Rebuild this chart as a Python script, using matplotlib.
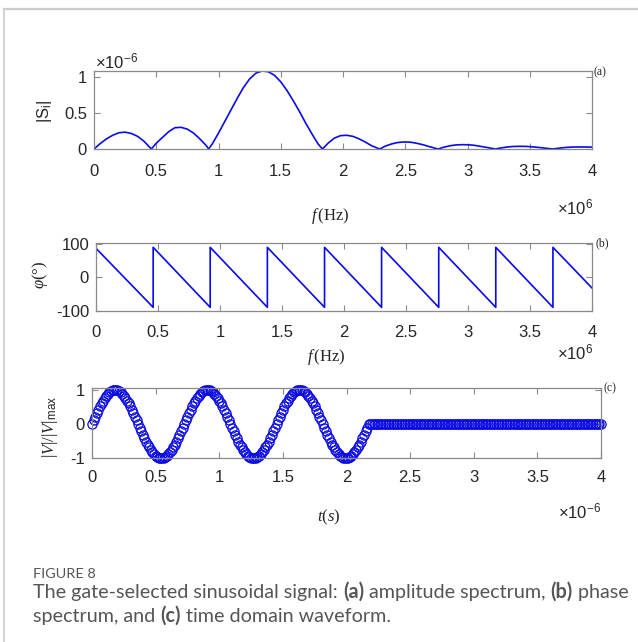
import numpy as np
import matplotlib
matplotlib.use("Agg")
import matplotlib.pyplot as plt
from matplotlib.lines import Line2D

plt.rcParams['font.family'] = ['Liberation Sans', 'DejaVu Sans']
plt.rcParams['mathtext.fontset'] = 'custom'
plt.rcParams['mathtext.rm'] = 'Liberation Serif'
plt.rcParams['mathtext.it'] = 'Liberation Serif:italic'
plt.rcParams['mathtext.sf'] = 'Liberation Sans'
plt.rcParams['mathtext.bf'] = 'Liberation Serif:bold'

# (a) Amplitudenspektrum |S_i|, f in MHz, Werte in 1e-6
f_amp = [0.0, 0.05, 0.10, 0.15, 0.20, 0.25, 0.30, 0.35, 0.40, 0.461,
         0.50, 0.55, 0.60, 0.65, 0.70, 0.75, 0.80, 0.85, 0.90, 0.921,
         0.95, 1.00, 1.05, 1.10, 1.15, 1.20, 1.25, 1.30, 1.35, 1.40,
         1.45, 1.50, 1.55, 1.60, 1.65, 1.70, 1.75, 1.80, 1.835,
         1.88, 1.93, 1.98, 2.03, 2.08, 2.13, 2.18, 2.23, 2.295,
         2.34, 2.39, 2.44, 2.49, 2.54, 2.59, 2.64, 2.69, 2.763,
         2.81, 2.86, 2.91, 2.96, 3.01, 3.06, 3.11, 3.16, 3.224,
         3.27, 3.32, 3.37, 3.42, 3.47, 3.52, 3.57, 3.62, 3.687,
         3.73, 3.78, 3.83, 3.88, 3.93, 4.0]
s_amp = [0.0, 0.075, 0.14, 0.19, 0.225, 0.233, 0.215, 0.175, 0.11, 0.0,
         0.08, 0.16, 0.24, 0.295, 0.30, 0.275, 0.22, 0.14, 0.05, 0.0,
         0.07, 0.22, 0.38, 0.54, 0.70, 0.85, 0.97, 1.05, 1.08, 1.07,
         1.02, 0.93, 0.81, 0.67, 0.52, 0.36, 0.21, 0.07, 0.0,
         0.08, 0.15, 0.185, 0.19, 0.175, 0.14, 0.095, 0.045, 0.0,
         0.04, 0.07, 0.09, 0.097, 0.095, 0.08, 0.06, 0.035, 0.0,
         0.025, 0.045, 0.057, 0.06, 0.058, 0.05, 0.035, 0.02, 0.0,
         0.015, 0.028, 0.035, 0.037, 0.036, 0.03, 0.022, 0.012, 0.0,
         0.01, 0.02, 0.026, 0.028, 0.028, 0.026]

# (b) Phasenspektrum in Grad
f_phase = [0.0, 0.461, 0.461, 0.921, 0.921, 1.382, 1.382, 1.843, 1.843,
           2.303, 2.303, 2.764, 2.764, 3.224, 3.224, 3.685, 3.685, 4.0]
phi = [87, -90, 90, -90, 90, -90, 90, -90, 90,
       -90, 90, -90, 90, -90, 90, -90, 90, -32]

# (c) normierte Zeitfunktion, Abtastung 0.0125 us, eine Periode = 58 Werte
dt_us = 0.0125
one_cycle = [0.00, 0.11, 0.21, 0.32, 0.42, 0.52, 0.61, 0.69, 0.76, 0.83,
             0.88, 0.93, 0.96, 0.99, 1.00, 1.00, 0.99, 0.96, 0.93, 0.88,
             0.83, 0.76, 0.69, 0.61, 0.52, 0.42, 0.32, 0.21, 0.11,
             0.00, -0.11, -0.21, -0.32, -0.42, -0.52, -0.61, -0.69, -0.76, -0.83,
             -0.88, -0.93, -0.96, -0.99, -1.00, -1.00, -0.99, -0.96, -0.93, -0.88,
             -0.83, -0.76, -0.69, -0.61, -0.52, -0.42, -0.32, -0.21, -0.11]
n_cycles = 3
n_zero = 147
wave = one_cycle * n_cycles + [0.0] * n_zero
t_us = np.arange(len(wave)) * dt_us

x_ticks = [0, 0.5, 1, 1.5, 2, 2.5, 3, 3.5, 4]
x_tick_labels = ['0', '0.5', '1', '1.5', '2', '2.5', '3', '3.5', '4']

W, H = 638, 642
fig = plt.figure(figsize=(W / 100, H / 100), dpi=100)


def box(l, t, r, b):
    # Pixelkoordinaten -> Figurenanteile
    return [l / W, 1 - b / H, (r - l) / W, (b - t) / H]


def fig_text(x, y, s, **kw):
    return fig.text(x / W, 1 - y / H, s, **kw)


def style(ax, pad_x):
    for sp in ax.spines.values():
        sp.set_color('#8a8a8a')
        sp.set_linewidth(0.9)
    ax.tick_params(direction='in', top=True, right=True, length=4, width=0.8,
                   color='#8a8a8a', labelsize=12, labelcolor='#262626')
    ax.tick_params(axis='x', pad=pad_x)
    ax.tick_params(axis='y', pad=5)
    ax.set_xticks(x_ticks)
    ax.set_xticklabels(x_tick_labels)
    ax.set_xlim(0, 4)


blau = '#0a0ae6'

# (a)
ax1 = fig.add_axes(box(94, 71, 592, 149))
ax1.plot(f_amp, s_amp, color=blau, lw=1.2)
ax1.set_ylim(0, 1.08)
style(ax1, 11)
ax1.set_yticks([0, 0.5, 1])
ax1.set_yticklabels(['0', '0.5', '1'])

# (b)
ax2 = fig.add_axes(box(96, 243, 592, 311))
ax2.plot(f_phase, phi, color=blau, lw=1.2)
ax2.set_ylim(-101, 103)
style(ax2, 10)
ax2.set_yticks([-100, 0, 100])
ax2.set_yticklabels(['-100', '0', '100'])

# (c)
ax3 = fig.add_axes(box(92, 388, 601, 458))
ax3.plot(t_us, wave, linestyle='none', marker='o', markersize=6.6,
         markerfacecolor='none', markeredgecolor=blau, markeredgewidth=0.9,
         clip_on=False)
ax3.set_ylim(-1.0, 1.06)
style(ax3, 9)
ax3.set_yticks([-1, 0, 1])
ax3.set_yticklabels(['-1', '0', '1'])

# Achsenbeschriftungen
lab = dict(fontsize=12, color='#262626')
fig_text(45, 111, r'$\mathsf{|S_{i}|}$', rotation=90, ha='center', va='center', **lab)
fig_text(330, 216, r'$f\,\mathrm{(Hz)}$', ha='center', va='center', **lab)
fig_text(40, 275, r'$\varphi(°)$', rotation=90, ha='center', va='center', **lab)
fig_text(326, 357, r'$f\,\mathrm{(Hz)}$', ha='center', va='center', **lab)
fig_text(50, 427, r'$|V|/|V|_{\mathsf{max}}$', rotation=90, ha='center', va='center', **lab)
fig_text(329, 517, r'$t(s)$', ha='center', va='center', **lab)

# Skalierungsfaktoren
fig_text(95, 68, r'$\mathsf{\times10^{-6}}$', ha='left', va='baseline', **lab)
fig_text(593, 214, r'$\mathsf{\times10^{6}}$', ha='right', va='baseline', **lab)
fig_text(593, 359, r'$\mathsf{\times10^{6}}$', ha='right', va='baseline', **lab)
fig_text(601, 518, r'$\mathsf{\times10^{-6}}$', ha='right', va='baseline', **lab)

# Teilbild-Kennungen
pl = dict(fontsize=8.5, color='#262626', family='Liberation Serif', ha='left', va='center')
fig_text(593, 72, '(a)', **pl)
fig_text(595, 243, '(b)', **pl)
fig_text(604, 388, '(c)', **pl)

# Rahmen
fig.add_artist(Line2D([4 / W, 1], [1 - 9 / H, 1 - 9 / H], color='#cccccc', lw=1.6))
fig.add_artist(Line2D([4 / W, 4 / W], [0, 1 - 9 / H], color='#cccccc', lw=1.2))

# Bildunterschrift
renderer = fig.canvas.get_renderer()
cap = dict(family=['Lato', 'DejaVu Sans'], color='#555555', va='baseline')


def breite(s, size, weight):
    a = fig.text(0, 0, '|' + s + '|', fontsize=size, fontweight=weight, **cap)
    b = fig.text(0, 0, '||', fontsize=size, fontweight=weight, **cap)
    w = a.get_window_extent(renderer).width - b.get_window_extent(renderer).width
    a.remove()
    b.remove()
    return w


def zeile(x, y, teile, size):
    for s, weight in teile:
        fig_text(x, y, s, fontsize=size, fontweight=weight, **cap)
        x += breite(s, size, weight)


zeile1 = [('The gate-selected sinusoidal signal: ', 'normal'), ('(a)', 'bold'),
          (' amplitude spectrum, ', 'normal'), ('(b)', 'bold'), (' phase', 'normal')]
zeile2 = [('spectrum, and ', 'normal'), ('(c)', 'bold'),
          (' time domain waveform.', 'normal')]

# Schriftgröße so, dass die erste Zeile von x=33 bis x=630 reicht
w10 = sum(breite(s, 10, wt) for s, wt in zeile1)
cap_size = 10 * (630 - 33) / w10

fig_text(33, 578, 'FIGURE 8', fontsize=10.4, **cap)
zeile(33, 598, zeile1, cap_size)
zeile(33, 622, zeile2, cap_size)

fig.savefig('out.png', dpi=100)
